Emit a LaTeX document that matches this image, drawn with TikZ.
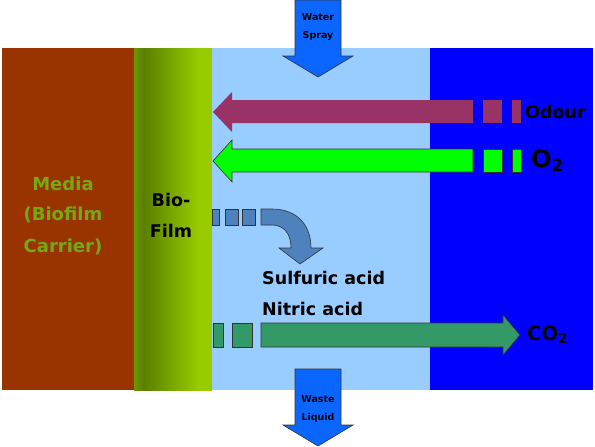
\documentclass[tikz,border=0pt]{standalone}
\usepackage{fontspec}
\setmainfont{DejaVu Sans}
\newfontfamily\vbold{DejaVu Sans Bold}
\usetikzlibrary{positioning}
\definecolor{media}{HTML}{993300}
\definecolor{mediatext}{HTML}{76A812}
\definecolor{bfedge}{HTML}{6A9400}
\definecolor{bfdark}{HTML}{5A7F00}
\definecolor{bflight}{HTML}{99CC00}
\definecolor{liquid}{HTML}{99CCFF}
\definecolor{airblue}{HTML}{0000FF}
\definecolor{flowblue}{HTML}{0A66FF}
\definecolor{odour}{HTML}{993366}
\definecolor{oxy}{HTML}{00FF00}
\definecolor{acid}{HTML}{4F81BD}
\definecolor{cotwo}{HTML}{339966}
\definecolor{edge}{HTML}{333333}
\pgfdeclarehorizontalshading{biofilmshade}{100bp}{
  color(0bp)=(bfedge); color(25bp)=(bfedge); color(31bp)=(bfdark); color(67bp)=(bflight); color(100bp)=(bflight)}
\tikzset{
  lbl/.style={font=\vbold\fontsize{17.5}{17.5}\selectfont, text=black, inner sep=0pt},
  small/.style={font=\vbold\fontsize{9.5}{9.5}\selectfont, text=black, inner sep=0pt},
  medtxt/.style={font=\vbold\fontsize{18}{18}\selectfont, text=mediatext, inner sep=0pt},
  arr/.style={draw=edge, line width=0.6pt, line join=miter},
}
\begin{document}
\begin{tikzpicture}[x=1pt,y=-1pt]
\useasboundingbox (0,0) rectangle (595,447);
\fill[white] (0,0) rectangle (595,447);
% regions
\fill[media] (2,48) rectangle (134,390);
\shade[shading=biofilmshade] (134,48) rectangle (212,390);
\fill[liquid] (212,48) rectangle (430,390);
\fill[airblue] (430,48) rectangle (593,390);
% water spray arrow
\filldraw[arr, fill=flowblue] (295,0) -- (341,0) -- (341,56) -- (353,56) -- (318,77) -- (283,56) -- (295,56) -- cycle;
\node[small] (water) at (318,17) {Water};
\node[small] (spray) at (318,36) {Spray};
% waste liquid arrow
\filldraw[arr, fill=flowblue] (295,369) -- (341,369) -- (341,425) -- (353,425) -- (318,446) -- (283,425) -- (295,425) -- cycle;
\node[small] (waste) at (318,399) {Waste};
\node[small] (liquidtxt) at (318,418) {Liquid};
% odour arrow
\fill[odour] (213,112) -- (232,92) -- (232,100) -- (473,100) -- (473,123) -- (232,123) -- (232,132) -- cycle;
\fill[odour] (483,100) rectangle (502,123);
\fill[odour] (512,100) rectangle (521,123);
\node[lbl, anchor=west] (odourtxt) at (525,112) {Odour};
% O2 arrow
\filldraw[arr, fill=oxy] (213,161) -- (232,140) -- (232,149) -- (473,149) -- (473,172) -- (232,172) -- (232,182) -- cycle;
\filldraw[arr, fill=oxy] (483,149) rectangle (502,172);
\filldraw[arr, fill=oxy] (512,149) rectangle (521,172);
\node[font=\vbold\fontsize{24}{24}\selectfont, inner sep=0pt, anchor=west] (o2) at (531,161) {O\textsubscript{2}};
% acid curved arrow
\filldraw[arr, fill=acid] (212,209) rectangle (219,225);
\filldraw[arr, fill=acid] (225,209) rectangle (238,225);
\filldraw[arr, fill=acid] (242,209) rectangle (255,225);
\filldraw[arr, fill=acid] (261,209) -- (272,209) .. controls (296,209) and (311,224) .. (311,248) -- (323,248) -- (300,264) -- (279,248) -- (291,248) .. controls (291,234) and (284,225) .. (272,225) -- (261,225) -- cycle;
\node[lbl, anchor=west] (sulf) at (262,278) {Sulfuric acid};
\node[lbl, anchor=west] (nitric) at (262,309) {Nitric acid};
% CO2 arrow
\filldraw[arr, fill=cotwo] (213,323) rectangle (223,347);
\filldraw[arr, fill=cotwo] (232,323) rectangle (252,347);
\filldraw[arr, fill=cotwo] (261,323) -- (503,323) -- (503,315) -- (520,335) -- (503,355) -- (503,347) -- (261,347) -- cycle;
\node[font=\vbold\fontsize{19.5}{19.5}\selectfont, inner sep=0pt, anchor=west] (co2) at (527,335) {CO\textsubscript{2}};
% media text
\node[medtxt] (m1) at (63,184) {Media};
\node[medtxt] (m2) at (63,215) {(Biofilm};
\node[medtxt] (m3) at (63,247) {Carrier)};
% biofilm text
\node[lbl] (b1) at (171,200) {Bio-};
\node[lbl] (b2) at (171,231) {Film};
\end{tikzpicture}
\end{document}
